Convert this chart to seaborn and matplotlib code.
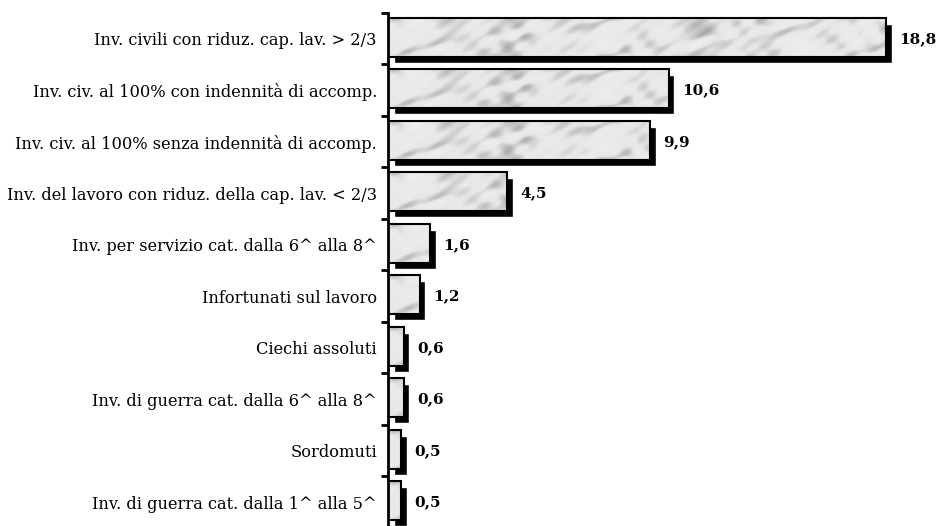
import numpy as np
import matplotlib
matplotlib.use('Agg')
import matplotlib.pyplot as plt
import matplotlib.transforms as mtransforms
import seaborn as sns

# categories and values (percentages, comma decimals in the labels)
categories = ['Inv. civili con riduz. cap. lav. > 2/3',
              'Inv. civ. al 100% con indennità di accomp.',
              'Inv. civ. al 100% senza indennità di accomp.',
              'Inv. del lavoro con riduz. della cap. lav. < 2/3',
              'Inv. per servizio cat. dalla 6^ alla 8^',
              'Infortunati sul lavoro',
              'Ciechi assoluti',
              'Inv. di guerra cat. dalla 6^ alla 8^',
              'Sordomuti',
              'Inv. di guerra cat. dalla 1^ alla 5^']
values = [18.8, 10.6, 9.9, 4.5, 1.6, 1.2, 0.6, 0.6, 0.5, 0.5]
value_labels = ['18,8', '10,6', '9,9', '4,5', '1,6', '1,2', '0,6', '0,6', '0,5', '0,5']

sns.set_style('white')
plt.rcParams['font.family'] = ['DejaVu Serif']

fig = plt.figure(figsize=(9.41, 5.26), dpi=100)
ax = fig.add_axes([388 / 941, -2 / 526, 560 / 941, 515 / 526])

# shadow bars (black, shifted right/down)
sns.barplot(x=values, y=categories, orient='h', color='black', width=0.76,
            saturation=1, ax=ax)
shift = mtransforms.ScaledTranslation(5.5 / 100, -4.5 / 100, fig.dpi_scale_trans)
for p in ax.containers[0].patches:
    p.set_transform(ax.transData + shift)
    p.set_zorder(1)

# main bars, nudged up a little
sns.barplot(x=values, y=categories, orient='h', color='#e0e0e0', width=0.76,
            saturation=1, edgecolor='black', linewidth=1.5, ax=ax)
main_container = ax.containers[-1]
up = mtransforms.ScaledTranslation(0, 1.5 / 100, fig.dpi_scale_trans)
for p in main_container.patches:
    p.set_transform(ax.transData + up)
    p.set_zorder(3)

# soft mottled marble texture (deterministic), clipped to each bar
yy, xx = np.mgrid[0:40, 0:520].astype(float)
field = (np.sin((xx + 2.0 * yy) / 11.0 + 1.5 * np.sin(yy / 6.0 + xx / 37.0))
         * np.sin(xx / 29.0 + 0.4)
         + 0.6 * np.sin((xx - 1.3 * yy) / 7.3 + 2.0 * np.sin(xx / 19.0))
         * np.sin(xx / 53.0 + yy / 17.0 + 1.1)
         + 0.3 * np.sin(xx / 3.1 + yy / 2.3))
field = (field - field.min()) / (field.max() - field.min())
tex = 0.93 - 0.05 * field - 0.22 * np.clip(field - 0.5, 0, None) / 0.5
for p in main_container.patches:
    x0, y0 = p.get_x(), p.get_y()
    w, h = p.get_width(), p.get_height()
    im = ax.imshow(tex[:, :max(2, int(w * 26.5))], cmap='gray', vmin=0, vmax=1,
                   extent=[x0, x0 + w, y0 + h, y0], aspect='auto', zorder=2.5,
                   interpolation='bilinear')
    im.set_transform(ax.transData + up)
    im.set_clip_path(p)
    p.set_facecolor('none')
ax.set_xlim(0, 560 / 26.5)
ax.set_ylim(9.5, -0.5)

# value labels
for i, (v, lab) in enumerate(zip(values, value_labels)):
    ax.annotate(lab, xy=(v, i), xytext=(9.5, 0), textcoords='offset points',
                ha='left', va='center', fontsize=11, fontweight='bold',
                color='black')

# axes styling: only the left spine, ticks at the category boundaries
for s in ['top', 'right', 'bottom']:
    ax.spines[s].set_visible(False)
ax.spines['left'].set_linewidth(2)
ax.spines['left'].set_color('black')
ax.set_xticks([])
ax.set_yticks(np.arange(-0.5, len(categories), 1), minor=True)
ax.tick_params(axis='y', which='major', length=0, pad=8, labelsize=11.7,
               labelcolor='black')
ax.tick_params(axis='y', which='minor', length=5, width=2, direction='out',
               color='black', left=True)
ax.set_xlabel('')
ax.set_ylabel('')

fig.savefig('out.png', dpi=100)
